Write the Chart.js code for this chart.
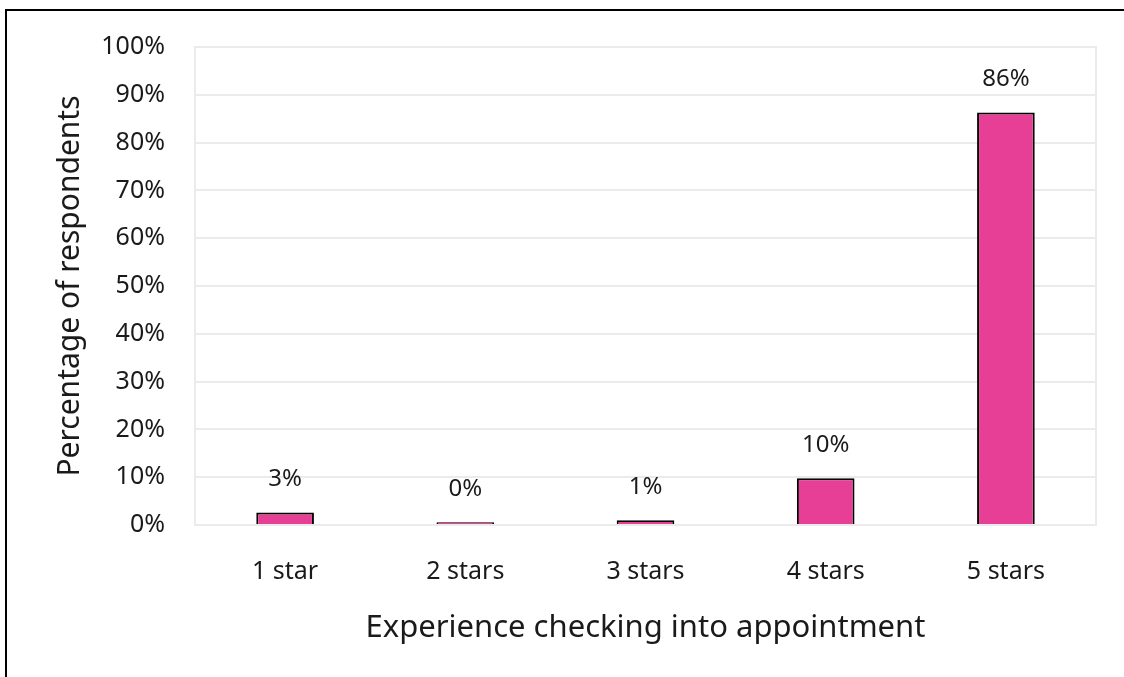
<!DOCTYPE html>
<html>
<head>
<meta charset="utf-8">
<script src="https://cdn.jsdelivr.net/npm/chart.js@4.4.1/dist/chart.umd.min.js"></script>
<style>
  html, body { margin: 0; padding: 0; background: #fff; overflow: hidden; }
  #wrap { position: relative; width: 1124px; height: 677px; }
  #frame { position: absolute; left: 5px; top: 9px; width: 1400px; height: 900px; border: 2px solid #000; }
  #chart { position: absolute; left: 0; top: 0; }
</style>
</head>
<body>
<div id="wrap">
  <div id="frame"></div>
  <canvas id="chart" width="1124" height="677"></canvas>
</div>
<script>
// ratings and share of respondents (%)
var ratings = ["1 star", "2 stars", "3 stars", "4 stars", "5 stars"];
var shares = [2.6, 0.6, 1.0, 9.8, 86.3];
var shareLabels = ["3%", "0%", "1%", "10%", "86%"];

var fontName = "'Noto Sans', sans-serif";

// light grey frame round the plot area
var plotFrame = {
  id: 'plotFrame',
  beforeDatasetsDraw: function(chart) {
    var a = chart.chartArea, ctx = chart.ctx;
    ctx.save();
    ctx.strokeStyle = '#ebebeb';
    ctx.lineWidth = 2;
    ctx.strokeRect(a.left, a.top, a.right - a.left, a.bottom - a.top);
    ctx.restore();
  }
};

// value text above each bar
var barLabels = {
  id: 'barLabels',
  afterDatasetsDraw: function(chart) {
    var ctx = chart.ctx;
    var meta = chart.getDatasetMeta(0);
    ctx.save();
    ctx.font = '24px ' + fontName;
    ctx.fillStyle = '#1a1a1a';
    ctx.textAlign = 'center';
    ctx.textBaseline = 'middle';
    meta.data.forEach(function(bar, i) {
      ctx.fillText(shareLabels[i], bar.x, bar.y - 33);
    });
    ctx.restore();
  }
};

var ctx = document.getElementById('chart');
var chart = new Chart(ctx, {
  type: 'bar',
  data: {
    labels: ratings,
    datasets: [{
      data: shares,
      backgroundColor: '#e73f95',
      borderColor: '#000000',
      borderWidth: 2,
      categoryPercentage: 1.0,
      barPercentage: 0.32
    }]
  },
  options: {
    responsive: false,
    animation: false,
    layout: { padding: { left: 50, top: 47, right: 28, bottom: 0 } },
    plugins: {
      legend: { display: false },
      tooltip: { enabled: false }
    },
    scales: {
      x: {
        grid: { display: false, drawTicks: false },
        border: { display: false },
        ticks: { color: '#1a1a1a', font: { family: fontName, size: 25 }, padding: 32 },
        title: {
          display: true,
          text: 'Experience checking into appointment',
          color: '#1a1a1a',
          font: { family: fontName, size: 31 },
          padding: { top: 4, bottom: 30 }
        },
        afterFit: function(scale) { scale.height = 152; }
      },
      y: {
        min: 0,
        max: 100,
        grid: { color: '#ebebeb', lineWidth: 2, drawTicks: false },
        border: { display: false },
        ticks: {
          stepSize: 10,
          color: '#1a1a1a',
          font: { family: fontName, size: 25 },
          padding: 30,
          callback: function(v) { return v + '%'; }
        },
        title: {
          display: true,
          text: 'Percentage of respondents',
          color: '#1a1a1a',
          font: { family: fontName, size: 30 },
          padding: { top: 2, bottom: 4 }
        },
        afterFit: function(scale) { scale.width = 145; }
      }
    }
  },
  plugins: [plotFrame, barLabels]
});
</script>
</body>
</html>
